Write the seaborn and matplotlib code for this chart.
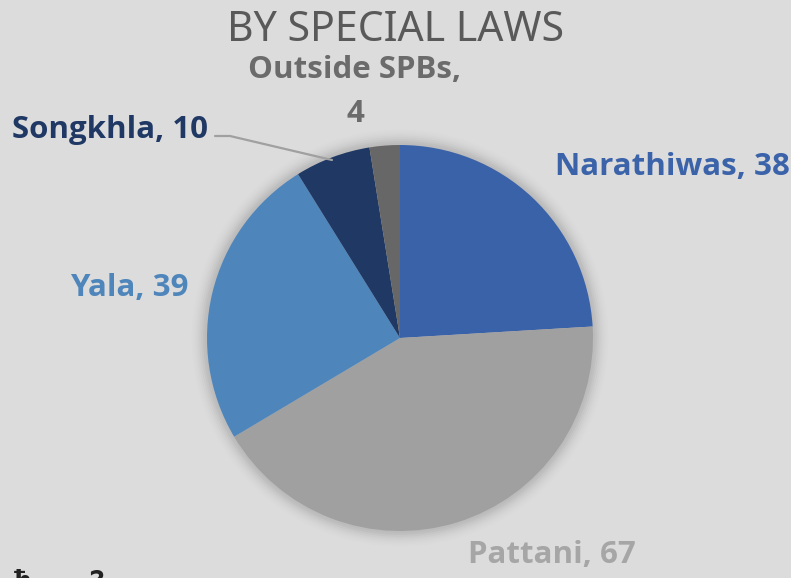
import numpy as np
import matplotlib
matplotlib.use("Agg")
import matplotlib.pyplot as plt
import seaborn as sns
from matplotlib.patches import Circle

# Chart data
regions = ["Narathiwas", "Pattani", "Yala", "Songkhla", "Outside SPBs"]
cases = [38, 67, 39, 10, 4]
slice_colors = ["#3a62a9", "#a0a0a0", "#4e86bc", "#1f3864", "#676767"]
label_colors = ["#3b63aa", "#a6a6a6", "#4e86bc", "#1f3864", "#6b6b6b"]
title_text = "BY SPECIAL LAWS"

BG = "#dcdcdc"
W, H = 791, 578
CX, CY, R = 400, 338, 193  # pie centre / radius in pixels


def px(x, y):
    # pixel position (from top-left) -> data coords of the pie axes
    return (x - CX) / R, (CY - y) / R


sns.set_theme(style="white")
plt.rcParams["font.family"] = ["Open Sans", "DejaVu Sans"]

fig = plt.figure(figsize=(W / 100, H / 100), dpi=100, facecolor=BG)
ax = fig.add_axes([(CX - R) / W, (H - CY - R) / H, 2 * R / W, 2 * R / H])
ax.set_facecolor(BG)
ax.set_axis_off()

# soft shadow round the pie
for i, a in enumerate(np.linspace(0.03, 0.006, 8)):
    ax.add_patch(Circle((0, 0), 1.0 + 0.01 * (i + 1), color="#000000",
                        alpha=a, lw=0, zorder=0, clip_on=False))

ax.pie(cases, colors=slice_colors, startangle=90, counterclock=False,
       radius=1.0, center=(0, 0), frame=False,
       wedgeprops=dict(linewidth=0), normalize=True)
ax.set_xlim(-1, 1)
ax.set_ylim(-1, 1)

# data labels
lab_pos = {
    "Narathiwas": (672, 167),
    "Pattani": (552, 555),
    "Yala": (129, 288),
    "Songkhla": (110, 130),
}
fs = 22.5
for name, val, col in zip(regions, cases, label_colors):
    if name in lab_pos:
        x, y = px(*lab_pos[name])
        ax.text(x, y, f"{name}, {val}", color=col, fontsize=fs,
                fontweight="bold", ha="center", va="center", clip_on=False)

x, y = px(355, 70)
ax.text(x, y, f"{regions[4]},", color=label_colors[4], fontsize=fs,
        fontweight="bold", ha="center", va="center", clip_on=False)
x, y = px(355, 114)
ax.text(x, y, f"{cases[4]}", color=label_colors[4], fontsize=fs,
        fontweight="bold", ha="center", va="center", clip_on=False)

# leader line for Songkhla
lx, ly = zip(px(215, 136), px(230, 136), px(332, 160))
ax.plot(lx, ly, color="#a0a0a0", lw=1.6, clip_on=False, zorder=5)

fig.text(0.5, 1 - 30 / H, title_text, color="#595959", fontsize=29.5,
         ha="center", va="center", family=["Noto Sans", "DejaVu Sans"])

# clipped text at the bottom edge
fig.text(14 / W, -14 / H, "ħ   ?", color="#222222", fontsize=22,
         fontweight="bold", ha="left", va="baseline",
         family=["DejaVu Sans Mono"])

fig.savefig("out.png", dpi=100, facecolor=BG)
